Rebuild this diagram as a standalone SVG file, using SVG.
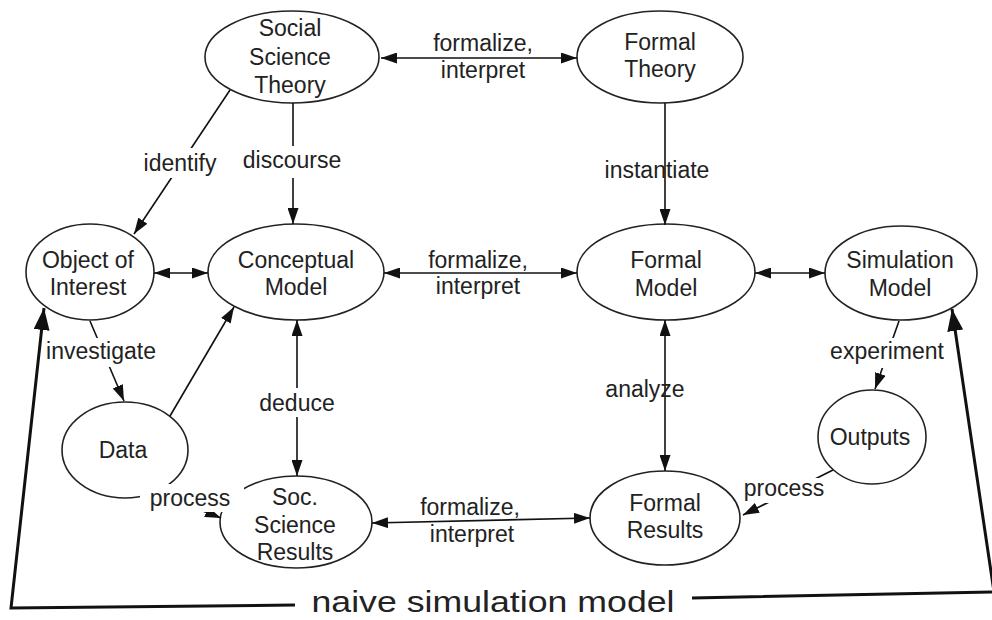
<svg xmlns="http://www.w3.org/2000/svg" width="992" height="620" viewBox="0 0 992 620">
<style>
.n ellipse{fill:#fff;stroke:#222;stroke-width:1.6}
text{font-family:"Liberation Sans",Arial,Helvetica,sans-serif;font-size:23px;fill:#222;text-anchor:middle}
.c{fill:none;stroke:#111;stroke-width:1.6}
.b{fill:none;stroke:#111;stroke-width:3}
.bg{fill:#fff}
</style>
<defs>
<marker id="a" viewBox="0 0 16 11" refX="16" refY="5.5" markerWidth="16" markerHeight="11" markerUnits="userSpaceOnUse" orient="auto-start-reverse"><path d="M0,0L16,5.5L0,11z" fill="#111"/></marker>
<marker id="A" viewBox="0 0 22 16" refX="22" refY="8" markerWidth="22" markerHeight="16" markerUnits="userSpaceOnUse" orient="auto-start-reverse"><path d="M0,0L22,8L0,16z" fill="#111"/></marker>
</defs>
<rect width="992" height="620" fill="#fff"/>
<g id="n-sst" class="n"><ellipse cx="292" cy="57" rx="87" ry="46"/><text x="290" y="36">Social</text><text x="290" y="65">Science</text><text x="290" y="93">Theory</text></g>
<g id="n-ft" class="n"><ellipse cx="660" cy="57" rx="83" ry="46"/><text x="660" y="50">Formal</text><text x="660" y="77">Theory</text></g>
<g id="n-ooi" class="n"><ellipse cx="90" cy="272" rx="64" ry="48"/><text x="88" y="268">Object of</text><text x="88" y="295">Interest</text></g>
<g id="n-cm" class="n"><ellipse cx="296" cy="272" rx="88" ry="48"/><text x="296" y="268">Conceptual</text><text x="296" y="295">Model</text></g>
<g id="n-fm" class="n"><ellipse cx="666" cy="272" rx="89" ry="48"/><text x="666" y="268">Formal</text><text x="666" y="296">Model</text></g>
<g id="n-sim" class="n"><ellipse cx="901" cy="273" rx="76" ry="47"/><text x="900" y="268">Simulation</text><text x="900" y="296">Model</text></g>
<g id="n-data" class="n"><ellipse cx="125" cy="450" rx="63" ry="48"/><text x="123" y="458">Data</text></g>
<g id="n-ssr" class="n"><ellipse cx="296" cy="522" rx="76" ry="46"/><text x="295" y="505">Soc.</text><text x="295" y="533">Science</text><text x="295" y="560">Results</text></g>
<g id="n-fr" class="n"><ellipse cx="665" cy="518" rx="75" ry="47"/><text x="665" y="511">Formal</text><text x="665" y="538">Results</text></g>
<g id="n-out" class="n"><ellipse cx="872" cy="437" rx="54" ry="47"/><text x="870" y="445">Outputs</text></g>
<g id="connectors">
<path class="c" d="M381,58L577,58" marker-start="url(#a)" marker-end="url(#a)"/>
<path class="c" d="M230,90L134,234" marker-end="url(#a)"/>
<path class="c" d="M293,103L293,224" marker-end="url(#a)"/>
<path class="c" d="M665,103L665,225" marker-end="url(#a)"/>
<path class="c" d="M154,273L208,273" marker-start="url(#a)" marker-end="url(#a)"/>
<path class="c" d="M384,273L577,273" marker-start="url(#a)" marker-end="url(#a)"/>
<path class="c" d="M755,273L825,273" marker-start="url(#a)" marker-end="url(#a)"/>
<path class="c" d="M90,321L124,401" marker-end="url(#a)"/>
<path class="c" d="M170,416L234,307" stroke-width="1.3" marker-end="url(#a)"/>
<path class="c" d="M297,320L297,476" marker-start="url(#a)" marker-end="url(#a)"/>
<path class="c" d="M665,320L665,471" marker-start="url(#a)" marker-end="url(#a)"/>
<path class="c" d="M899,321L875,389" marker-end="url(#a)"/>
<path class="c" d="M833,470L743,515" marker-end="url(#a)"/>
<path class="c" d="M150,497Q190,505 221,518" marker-end="url(#a)"/>
<path class="c" d="M372,523L590,518" marker-start="url(#a)" marker-end="url(#a)"/>
<path class="b" d="M44,308L11,608L295,605" marker-start="url(#A)"/>
<path class="b" d="M952,309L994,592L692,598" marker-start="url(#A)"/>
</g>
<g id="labels">
<text x="483" y="51">formalize,</text><text x="483" y="78">interpret</text>
<rect class="bg" x="142" y="148" width="76" height="30"/><text x="180" y="171">identify</text>
<rect class="bg" x="242" y="146" width="101" height="32"/><text x="292" y="168">discourse</text>
<text x="657" y="178">instantiate</text>
<text x="478" y="268">formalize,</text><text x="478" y="294">interpret</text>
<rect class="bg" x="46" y="338" width="112" height="29"/><text x="101" y="359">investigate</text>
<rect class="bg" x="258" y="388" width="78" height="29"/><text x="297" y="411">deduce</text>
<text x="645" y="397">analyze</text>
<rect class="bg" x="829" y="338" width="117" height="30"/><text x="887" y="359">experiment</text>
<rect class="bg" x="140" y="484" width="104" height="28"/><text x="190" y="506">process</text>
<rect class="bg" x="744" y="478" width="82" height="25"/><text x="784" y="496">process</text>
<text x="470" y="515">formalize,</text><text x="472" y="542">interpret</text>
<text x="493" y="612" style="font-size:30px" textLength="363" lengthAdjust="spacingAndGlyphs">naive simulation model</text>
</g>
</svg>
